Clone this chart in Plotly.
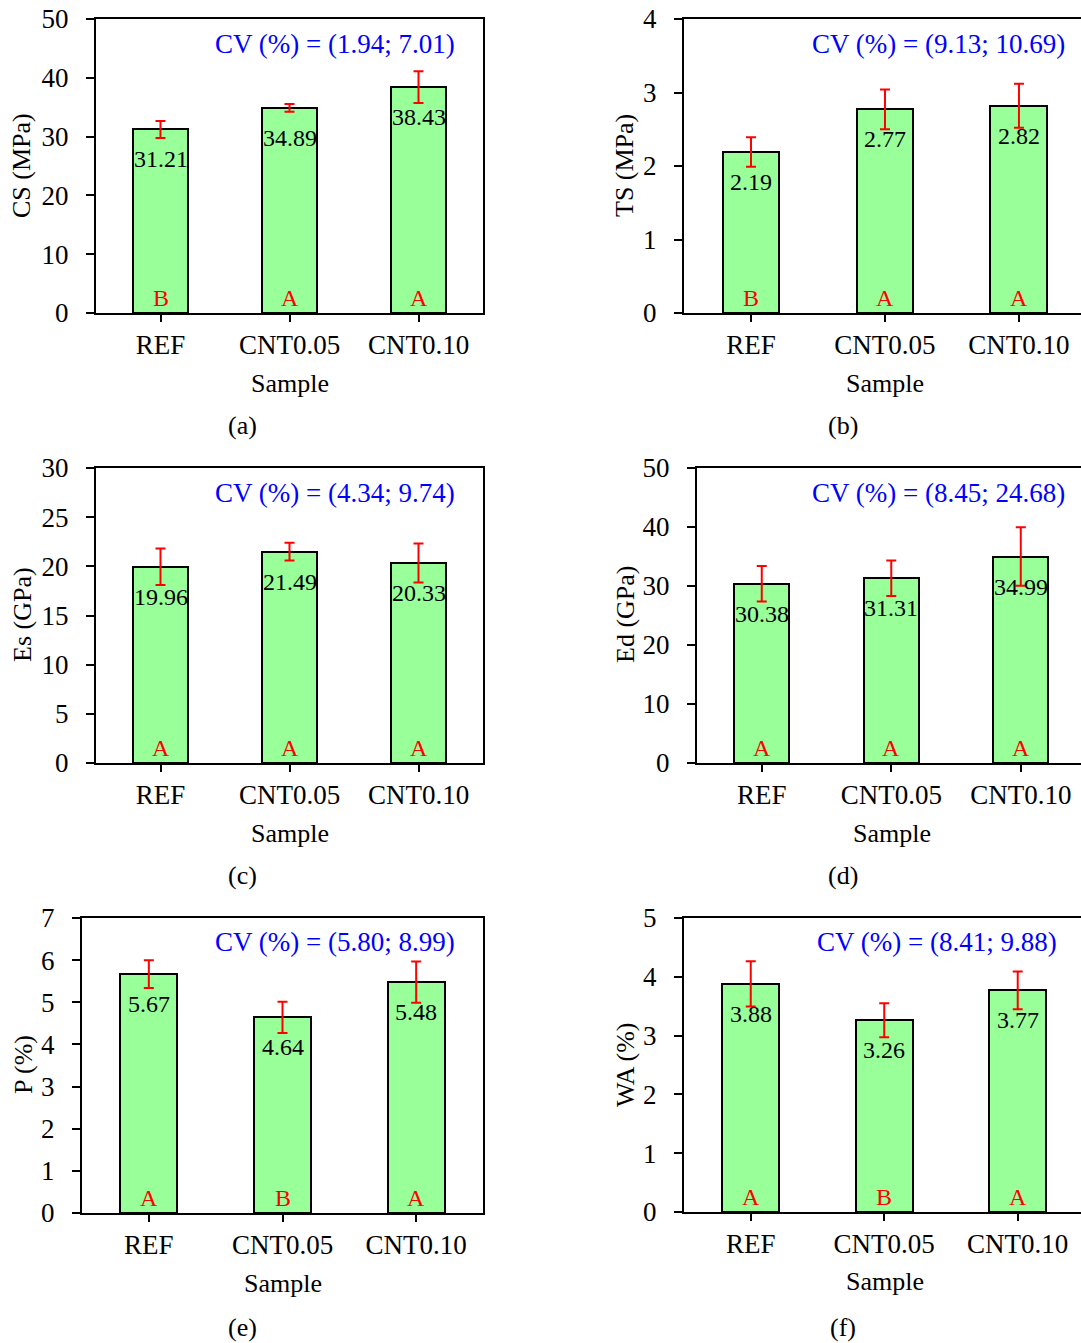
import plotly.graph_objects as go

# ---------------- data ----------------
samples = ["REF", "CNT0.05", "CNT0.10"]

cs_mean = [31.21, 34.89, 38.43]
cs_err = [1.44, 0.66, 2.70]
cs_group = ["B", "A", "A"]

ts_mean = [2.19, 2.77, 2.82]
ts_err = [0.20, 0.27, 0.30]
ts_group = ["B", "A", "A"]

es_mean = [19.96, 21.49, 20.33]
es_err = [1.85, 0.90, 1.98]
es_group = ["A", "A", "A"]

ed_mean = [30.38, 31.31, 34.99]
ed_err = [3.0, 3.0, 4.95]
ed_group = ["A", "A", "A"]

p_mean = [5.67, 4.64, 5.48]
p_err = [0.33, 0.37, 0.49]
p_group = ["A", "B", "A"]

wa_mean = [3.88, 3.26, 3.77]
wa_err = [0.385, 0.29, 0.32]
wa_group = ["A", "B", "A"]

cv_texts = ["CV (%) = (1.94; 7.01)", "CV (%) = (9.13; 10.69)",
            "CV (%) = (4.34; 9.74)", "CV (%) = (8.45; 24.68)",
            "CV (%) = (5.80; 8.99)", "CV (%) = (8.41; 9.88)"]
y_titles = ["CS (MPa)", "TS (MPa)", "Es (GPa)", "Ed (GPa)", "P (%)", "WA (%)"]
y_max = [50, 4, 30, 50, 7, 5]
y_dtick = [10, 1, 5, 10, 1, 1]
panel_tags = ["(a)", "(b)", "(c)", "(d)", "(e)", "(f)"]

means = [cs_mean, ts_mean, es_mean, ed_mean, p_mean, wa_mean]
errs = [cs_err, ts_err, es_err, ed_err, p_err, wa_err]
groups = [cs_group, ts_group, es_group, ed_group, p_group, wa_group]

# ---------------- layout geometry (screen pixels) ----------------
W, H = 1081, 1343
# left, right, top, bottom, x-range right end, is_right_column
geom = [
    (96, 483, 19, 313, 2.5, False),
    (684, 1081, 19, 313, 2.463, True),
    (96, 483, 468, 763, 2.5, False),
    (697, 1081, 468, 763, 2.465, True),
    (82, 483, 918, 1213, 2.5, False),
    (684, 1081, 918, 1212, 2.474, True),
]
# positions of texts (pixel centres)
cv_pos = [(335, 44), (938, 44), (335, 493), (938, 493), (335, 942), (937, 942)]
ytitle_pos = [(22, 166), (625, 166), (22, 615), (625, 615), (23, 1065), (625, 1065)]
xtitle_pos = [(290, 383), (885, 383), (290, 833), (892, 833), (283, 1283), (885, 1281)]
tag_pos = [(242, 425), (843, 425), (242, 875), (843, 875), (242, 1327), (843, 1327)]

FONT = "Liberation Serif, Times New Roman, serif"

def fx(p):
    return min(1.0, max(0.0, p / W))

def fy(p):
    return min(1.0, max(0.0, 1 - p / H))

fig = go.Figure()
annotations = []
layout = {}

for i in range(6):
    n = "" if i == 0 else str(i + 1)
    xa, ya = "x" + n, "y" + n
    left, right, top, bottom, xr, is_right = geom[i]
    xs = list(range(len(samples)))
    fig.add_trace(go.Bar(
        x=xs, y=means[i], width=0.425,
        marker=dict(color="#99ff99", line=dict(color="black", width=2)),
        error_y=dict(type="data", array=errs[i], color="#ff0000",
                     thickness=2, width=5),
        xaxis=xa, yaxis=ya, showlegend=False,
    ))
    layout["xaxis" + n] = dict(
        domain=[fx(left), fx(right)], anchor=ya, range=[-0.5, xr],
        tickvals=xs, ticktext=samples, showline=True, linecolor="black",
        linewidth=2, mirror=True, ticks="outside", ticklen=7, tickwidth=2,
        tickcolor="black", showgrid=False, zeroline=False,
        tickfont=dict(family=FONT, size=27, color="black"),
        ticklabelstandoff=0, fixedrange=True, automargin=False,
        ticklabeloverflow="allow",
    )
    layout["yaxis" + n] = dict(
        domain=[fy(bottom), fy(top)], anchor=xa, range=[0, y_max[i]],
        dtick=y_dtick[i], tick0=0, showline=True, linecolor="black",
        linewidth=2, mirror=(not is_right), ticks="outside", ticklen=8,
        tickwidth=2, tickcolor="black", showgrid=False, zeroline=False,
        tickfont=dict(family=FONT, size=27, color="black"),
        ticklabelstandoff=12, fixedrange=True, automargin=False,
        ticklabeloverflow="allow",
    )
    # value labels and group letters
    for j, s in enumerate(samples):
        annotations.append(dict(
            x=j, y=means[i][j], xref=xa, yref=ya, text=f"{means[i][j]:.2f}",
            showarrow=False, yanchor="top", yshift=-15,
            font=dict(family=FONT, size=24, color="black")))
        annotations.append(dict(
            x=j, y=0, xref=xa, yref=ya, text=groups[i][j],
            showarrow=False, yanchor="bottom", yshift=0,
            font=dict(family=FONT, size=24, color="#ff0000")))
    # CV text
    annotations.append(dict(
        x=fx(cv_pos[i][0]), y=fy(cv_pos[i][1]), xref="paper", yref="paper",
        text=cv_texts[i], showarrow=False, xanchor="center", yanchor="middle",
        font=dict(family=FONT, size=27, color="#0000ff")))
    # y title
    annotations.append(dict(
        x=fx(ytitle_pos[i][0]), y=fy(ytitle_pos[i][1]), xref="paper",
        yref="paper", text=y_titles[i], textangle=-90, showarrow=False,
        xanchor="center", yanchor="middle",
        font=dict(family=FONT, size=26, color="black")))
    # x title
    annotations.append(dict(
        x=fx(xtitle_pos[i][0]), y=fy(xtitle_pos[i][1]), xref="paper",
        yref="paper", text="Sample", showarrow=False, xanchor="center",
        yanchor="middle", font=dict(family=FONT, size=26, color="black")))
    # panel tag
    annotations.append(dict(
        x=fx(tag_pos[i][0]), y=fy(tag_pos[i][1]), xref="paper",
        yref="paper", text=panel_tags[i], showarrow=False, xanchor="center",
        yanchor="middle", font=dict(family=FONT, size=26, color="black")))

fig.update_layout(
    width=W, height=H, margin=dict(l=0, r=0, t=0, b=0, autoexpand=False),
    paper_bgcolor="white", plot_bgcolor="white",
    annotations=annotations, bargap=0, **layout,
)

fig.write_html("out.html", config={"displayModeBar": False},
               post_script="document.body.style.margin='0';"
                           "document.body.style.overflow='hidden';")
